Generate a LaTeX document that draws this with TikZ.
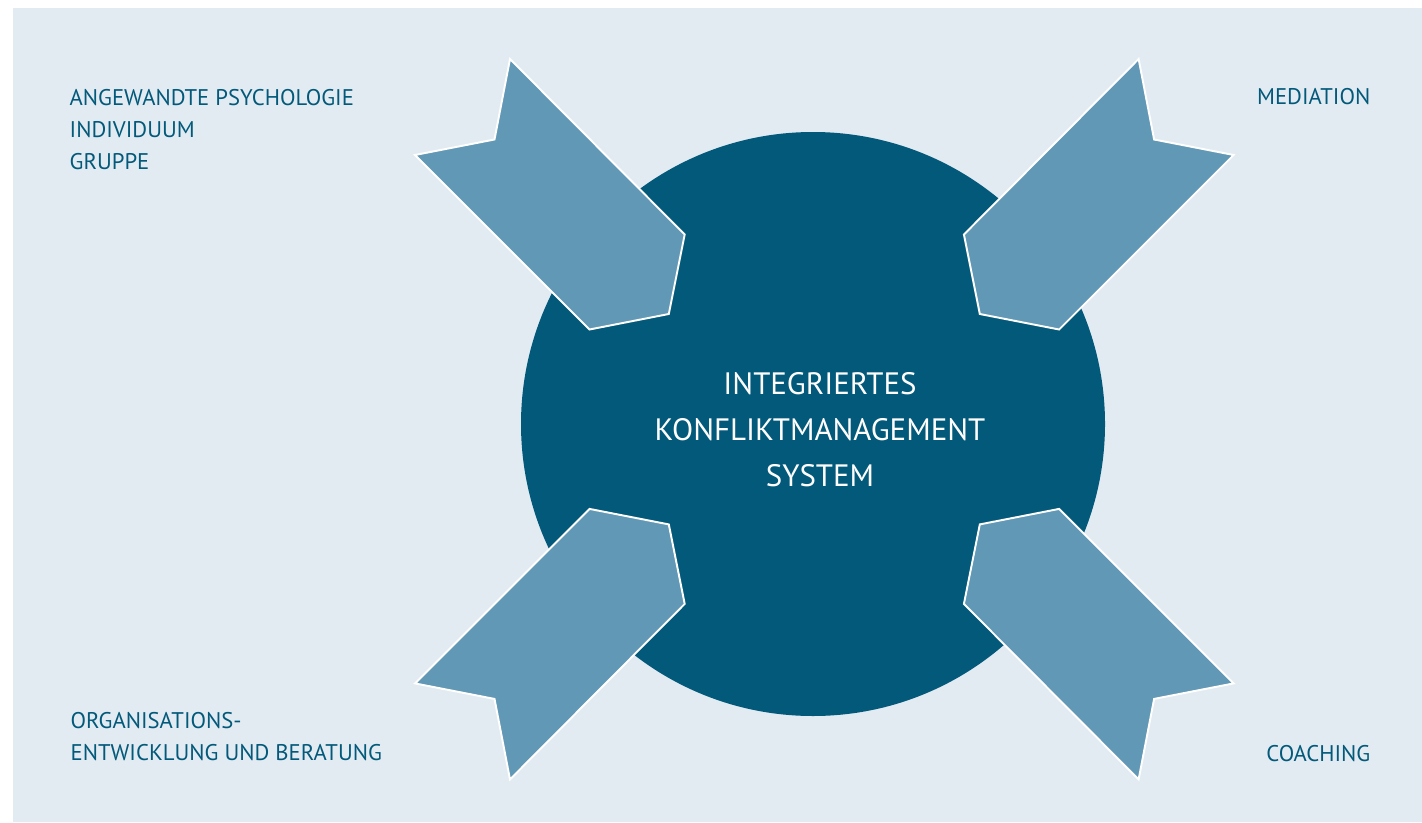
\documentclass[tikz,border=0pt]{standalone}
\usepackage{fontspec}
\setmainfont{PT Sans}
\definecolor{kmback}{HTML}{E3EBF2}
\definecolor{kmdark}{HTML}{02597A}
\definecolor{kmarrow}{HTML}{6098B5}
\begin{document}
\begin{tikzpicture}[scale=2, every node/.style={transform shape},
        fieldtext/.style={text=kmdark, inner sep=0pt, align=left,
            font=\fontsize{6.45}{9.1}\selectfont},
        inflow/.style={fill=kmarrow, draw=white, line width=1.1pt}]
            \useasboundingbox (0,0) rectangle (14.22,8.22);
            \fill[white] (0,0) rectangle (14.22,8.22);
            \fill[kmback] (0.13,0) rectangle (14.22,8.14);
            \fill[kmdark] (8.13,3.98) circle (2.92);
            \filldraw[inflow] (5.100,7.630) -- (4.945,6.825) -- (4.150,6.670)
                -- (5.895,4.925) -- (6.688,5.080) -- (6.847,5.875) -- cycle;
            \filldraw[inflow] (11.386,7.630) -- (11.541,6.825) -- (12.336,6.670)
                -- (10.591,4.925) -- (9.798,5.080) -- (9.639,5.875) -- cycle;
            \filldraw[inflow] (5.100,0.426) -- (4.945,1.231) -- (4.150,1.386)
                -- (5.895,3.131) -- (6.688,2.976) -- (6.847,2.181) -- cycle;
            \filldraw[inflow] (11.386,0.426) -- (11.541,1.231) -- (12.336,1.386)
                -- (10.591,3.131) -- (9.798,2.976) -- (9.639,2.181) -- cycle;
            \node[fieldtext, anchor=base west] (psych) at (0.69,6.527)
                {ANGEWANDTE PSYCHOLOGIE\\INDIVIDUUM\\GRUPPE};
            \node[fieldtext, anchor=base west] (orga) at (0.70,0.613)
                {ORGANISATIONS-\\ENTWICKLUNG UND BERATUNG};
            \node[fieldtext, anchor=base east] (mediation) at (13.71,7.17) {MEDIATION};
            \node[fieldtext, anchor=base east] (coaching) at (13.71,0.61) {COACHING};
            \node[text=white, inner sep=0pt, align=center, anchor=base,
                font=\fontsize{8.8}{13.1}\selectfont] (ikms) at (8.20,3.353)
                {INTEGRIERTES\\KONFLIKTMANAGEMENT\\SYSTEM};
        \end{tikzpicture}
\end{document}
